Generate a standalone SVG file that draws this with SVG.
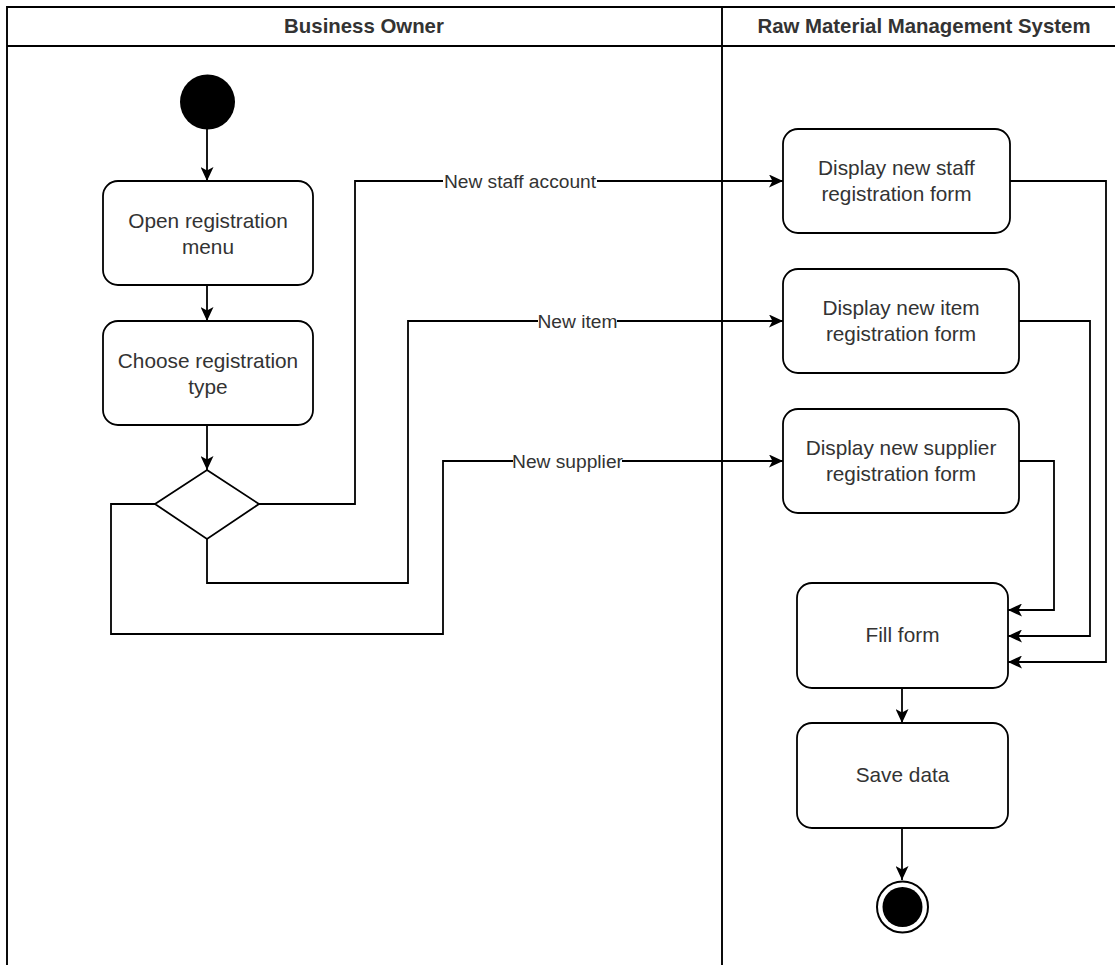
<svg xmlns="http://www.w3.org/2000/svg" width="1115" height="965" viewBox="0 0 1115 965">
<defs>
<marker id="arr" markerUnits="userSpaceOnUse" viewBox="0 0 15 13" refX="14" refY="6.5" markerWidth="15" markerHeight="13" orient="auto">
<path d="M0,0 L14,6.5 L0,13 L3.5,6.5 Z" fill="#000"/>
</marker>
<style>
.box{fill:#fff;stroke:#000;stroke-width:1.8}
.pool{fill:none;stroke:#000;stroke-width:1.9}
.hdr{fill:#333;font-family:"Liberation Sans",Arial,Helvetica,sans-serif;font-size:20.4px;font-weight:bold;text-anchor:middle}
.t{fill:#333;font-family:"Liberation Sans",Arial,Helvetica,sans-serif;font-size:20.8px;text-anchor:middle}
.lbl{fill:#333;font-family:"Liberation Sans",Arial,Helvetica,sans-serif;font-size:19.2px;text-anchor:middle}
.c{fill:none;stroke:#000;stroke-width:1.8;marker-end:url(#arr)}
</style>
</defs>
<rect width="1115" height="965" fill="#fff"/>
<g id="pool">
<path class="pool" d="M7,975 L7,7 L1130,7 M7,46 L1130,46 M722,7 L722,975"/>
<text class="hdr" x="364" y="33">Business Owner</text>
<text class="hdr" x="924" y="33">Raw Material Management System</text>
</g>
<g id="connectors">
<path class="c" d="M207,129 L207,181"/>
<path class="c" d="M207,285 L207,321"/>
<path class="c" d="M207,425 L207,470"/>
<path class="c" d="M259,504 L355,504 L355,181 L783,181"/>
<path class="c" d="M207,539 L207,583 L408,583 L408,321 L783,321"/>
<path class="c" d="M155,504 L111,504 L111,634 L443,634 L443,461 L783,461"/>
<path class="c" d="M1010,181 L1106,181 L1106,662 L1008,662"/>
<path class="c" d="M1019,321 L1090,321 L1090,636 L1008,636"/>
<path class="c" d="M1019,461 L1054,461 L1054,610 L1008,610"/>
<path class="c" d="M902,688 L902,723"/>
<path class="c" d="M902,828 L902,880"/>
<rect x="443" y="170" width="154" height="22" fill="#fff"/>
<text class="lbl" x="520" y="188">New staff account</text>
<rect x="538" y="310" width="79" height="22" fill="#fff"/>
<text class="lbl" x="577.5" y="328">New item</text>
<rect x="513" y="450" width="109" height="22" fill="#fff"/>
<text class="lbl" x="567.5" y="468">New supplier</text>
</g>
<g id="start"><circle cx="207.5" cy="102" r="27.5" fill="#000"/></g>
<g id="open-menu">
<rect class="box" x="103" y="181" width="210" height="104" rx="15"/>
<text class="t" x="208" y="228">Open registration</text>
<text class="t" x="208" y="254">menu</text>
</g>
<g id="choose-type">
<rect class="box" x="103" y="321" width="210" height="104" rx="15"/>
<text class="t" x="208" y="368">Choose registration</text>
<text class="t" x="208" y="394">type</text>
</g>
<g id="decision">
<polygon points="207,470 259,504 207,539 155,504" fill="#fff" stroke="#000" stroke-width="1.8"/>
</g>
<g id="display-staff">
<rect class="box" x="783" y="129" width="227" height="104" rx="15"/>
<text class="t" x="896.5" y="175">Display new staff</text>
<text class="t" x="896.5" y="201">registration form</text>
</g>
<g id="display-item">
<rect class="box" x="783" y="269" width="236" height="104" rx="15"/>
<text class="t" x="901" y="315">Display new item</text>
<text class="t" x="901" y="341">registration form</text>
</g>
<g id="display-supplier">
<rect class="box" x="783" y="409" width="236" height="104" rx="15"/>
<text class="t" x="901" y="455">Display new supplier</text>
<text class="t" x="901" y="481">registration form</text>
</g>
<g id="fill-form">
<rect class="box" x="797" y="583" width="211" height="105" rx="15"/>
<text class="t" x="902.5" y="642">Fill form</text>
</g>
<g id="save-data">
<rect class="box" x="797" y="723" width="211" height="105" rx="15"/>
<text class="t" x="902.5" y="782">Save data</text>
</g>
<g id="end">
<circle cx="902.5" cy="907" r="25.5" fill="#fff" stroke="#000" stroke-width="2"/>
<circle cx="902.5" cy="907" r="20" fill="#000"/>
</g>
</svg>
